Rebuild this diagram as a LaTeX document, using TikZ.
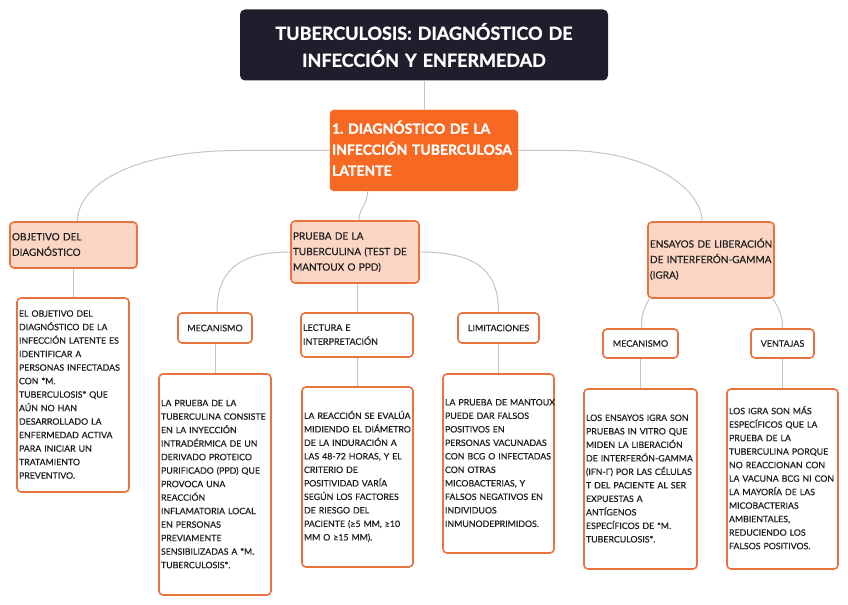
\documentclass[tikz,border=0pt]{standalone}
\usepackage{fontspec}
\setmainfont{Lato}
\newfontfamily\heavyfont{Lato}[BoldFeatures={FakeBold=1.2}]
\newfontfamily\medfont{Lato}[FakeBold=0.35]
\usetikzlibrary{calc}
\definecolor{titlebg}{HTML}{221D2C}
\definecolor{mainor}{HTML}{F76823}
\definecolor{borderor}{HTML}{E8733F}
\definecolor{lightor}{HTML}{FCD6C5}
\definecolor{linegray}{HTML}{C4C4C4}
\definecolor{textdark}{HTML}{1E1E1E}
\newcommand\blines[1]{\begin{tabular}{@{}l@{}}#1\end{tabular}}
\tikzset{
  conn/.style={draw=linegray, line width=1bp},
  sz/.style n args={3}{text width=#1bp, minimum height=#2bp, inner xsep=#3bp},
  titlebox/.style={fill=titlebg, rounded corners=5bp, text=white, align=center,
    font=\heavyfont\fontsize{18bp}{27bp}\selectfont\bfseries\frenchspacing},
  mainbox/.style={fill=mainor, draw=mainor, rounded corners=4bp, text=white, align=left,
    font=\heavyfont\fontsize{14bp}{21bp}\selectfont\bfseries\frenchspacing},
  lvltwo/.style={draw=borderor, fill=lightor, line width=1.6bp, rounded corners=4bp,
    align=left, text=textdark, font=\medfont\fontsize{10bp}{15.5bp}\selectfont\frenchspacing},
  lvlthree/.style={draw=borderor, fill=white, line width=1.6bp, rounded corners=4bp,
    text=textdark, font=\medfont\fontsize{9bp}{14bp}\selectfont\frenchspacing},
  txtbox/.style={draw=borderor, fill=white, line width=1.6bp, rounded corners=4bp,
    align=left, text=textdark, font=\medfont\fontsize{8.8bp}{13.5bp}\selectfont\frenchspacing},
}
\begin{document}
\begin{tikzpicture}[x=1bp,y=-1bp]
\useasboundingbox (0,0) rectangle (848,605);
% nodes
\node[titlebox, sz={360}{71}{4}] (title) at (424,45)
  {TUBERCULOSIS: DIAGNÓSTICO DE\\INFECCIÓN Y ENFERMEDAD};
\node[mainbox, sz={184}{81}{2}] (main) at (424,150.5)
  {\blines{1. DIAGNÓSTICO DE LA\\INFECCIÓN TUBERCULOSA\\LATENTE}};
\node[lvltwo, sz={123}{46}{2}] (obj) at (73.5,245)
  {\blines{OBJETIVO DEL\\DIAGNÓSTICO}};
\node[lvltwo, sz={124}{62}{2}] (prueba) at (355,252)
  {\blines{PRUEBA DE LA\\TUBERCULINA (TEST DE\\MANTOUX O PPD)}};
\node[lvltwo, sz={122}{76}{2}] (igra) at (711,260)
  {\blines{ENSAYOS DE LIBERACIÓN\\DE INTERFERÓN-GAMMA\\(IGRA)}};
\node[txtbox, sz={108}{194}{2}] (objtxt) at (73,395)
  {\blines{EL OBJETIVO DEL\\DIAGNÓSTICO DE LA\\INFECCIÓN LATENTE ES\\IDENTIFICAR A\\PERSONAS INFECTADAS\\CON *M.\\TUBERCULOSIS* QUE\\AÚN NO HAN\\DESARROLLADO LA\\ENFERMEDAD ACTIVA\\PARA INICIAR UN\\TRATAMIENTO\\PREVENTIVO.}};
\node[lvlthree, sz={70}{30}{2}, align=center] (mecA) at (215,328) {MECANISMO};
\node[lvlthree, sz={108}{44}{2}, align=left] (lect) at (357,335) {\blines{LECTURA E\\INTERPRETACIÓN}};
\node[lvlthree, sz={77}{30}{2}, align=center] (lim) at (498.5,328) {LIMITACIONES};
\node[lvlthree, sz={71}{29}{2}, align=center] (mecB) at (640.5,343.5) {MECANISMO};
\node[lvlthree, sz={59}{29}{2}, align=center] (vent) at (782.5,343.5) {VENTAJAS};
\node[txtbox, sz={108}{221}{2}] (mecAtxt) at (215,484.5)
  {\blines{LA PRUEBA DE LA\\TUBERCULINA CONSISTE\\EN LA INYECCIÓN\\INTRADÉRMICA DE UN\\DERIVADO PROTEICO\\PURIFICADO (PPD) QUE\\PROVOCA UNA\\REACCIÓN\\INFLAMATORIA LOCAL\\EN PERSONAS\\PREVIAMENTE\\SENSIBILIZADAS A *M.\\TUBERCULOSIS*.}};
\node[txtbox, sz={107}{180}{2}] (lecttxt) at (357.5,477)
  {\blines{LA REACCIÓN SE EVALÚA\\MIDIENDO EL DIÁMETRO\\DE LA INDURACIÓN A\\LAS 48-72 HORAS, Y EL\\CRITERIO DE\\POSITIVIDAD VARÍA\\SEGÚN LOS FACTORES\\DE RIESGO DEL\\PACIENTE (≥5 MM, ≥10\\MM O ≥15 MM).}};
\node[txtbox, sz={107}{179}{2}] (limtxt) at (498.5,463.5)
  {\blines{LA PRUEBA DE MANTOUX\\PUEDE DAR FALSOS\\POSITIVOS EN\\PERSONAS VACUNADAS\\CON BCG O INFECTADAS\\CON OTRAS\\MICOBACTERIAS, Y\\FALSOS NEGATIVOS EN\\INDIVIDUOS\\INMUNODEPRIMIDOS.}};
\node[txtbox, sz={109}{180}{2}] (mecBtxt) at (640.5,479)
  {\blines{LOS ENSAYOS IGRA SON\\PRUEBAS IN VITRO QUE\\MIDEN LA LIBERACIÓN\\DE INTERFERÓN-GAMMA\\(IFN-Γ) POR LAS CÉLULAS\\T DEL PACIENTE AL SER\\EXPUESTAS A\\ANTÍGENOS\\ESPECÍFICOS DE *M.\\TUBERCULOSIS*.}};
\node[txtbox, sz={107}{180}{2}] (venttxt) at (782.5,479)
  {\blines{LOS IGRA SON MÁS\\ESPECÍFICOS QUE LA\\PRUEBA DE LA\\TUBERCULINA PORQUE\\NO REACCIONAN CON\\LA VACUNA BCG NI CON\\LA MAYORÍA DE LAS\\MICOBACTERIAS\\AMBIENTALES,\\REDUCIENDO LOS\\FALSOS POSITIVOS.}};
% connectors
\draw[conn] (title.south) -- (main.north);
\draw[conn] (main.west) -- ++(-90,0) .. controls +(-110,0) and ($(obj.north)+(4,-35)$) .. ($(obj.north)+(4,0)$);
\draw[conn] (main.east) -- ++(47,0) .. controls +(85,0) and ($(igra.north)+(-9,-32)$) .. ($(igra.north)+(-9,0)$);
\draw[conn] ($(main.south west)+(38,0)$) .. controls +(-1,15) and ($(prueba.north)+(4,-12)$) .. ($(prueba.north)+(4,0)$);
\draw[conn] (obj.south -| objtxt.north) -- (objtxt.north);
\draw[conn] (prueba.west) .. controls +(-56,0) and ($(mecA.north)+(2,-38)$) .. ($(mecA.north)+(2,0)$);
\draw[conn] (prueba.east) .. controls +(61,0) and ($(lim.north)+(0,-38)$) .. (lim.north);
\draw[conn] (prueba.south -| lect.north) -- (lect.north);
\draw[conn] (mecA.south) -- (mecAtxt.north);
\draw[conn] (lect.south) -- (lecttxt.north -| lect.south);
\draw[conn] (lim.south) -- (limtxt.north);
\draw[conn] ($(igra.south west)+(2,0)$) .. controls +(-7,12) and ($(mecB.north)+(1,-11)$) .. ($(mecB.north)+(1,0)$);
\draw[conn] ($(igra.south east)+(-2,0)$) .. controls +(8,12) and ($(vent.north)+(0,-11)$) .. (vent.north);
\draw[conn] (mecB.south) -- (mecBtxt.north);
\draw[conn] (vent.south) -- (venttxt.north);
\end{tikzpicture}
\end{document}
